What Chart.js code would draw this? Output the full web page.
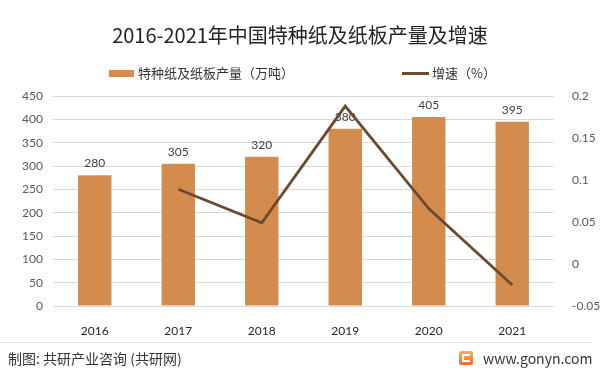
<!DOCTYPE html>
<html>
<head>
<meta charset="utf-8">
<script src="https://cdn.jsdelivr.net/npm/chart.js@4"></script>
<style>
  body { margin: 0; background: #fff; }
  #wrap { position: relative; width: 600px; height: 375px; font-family: "Noto Sans CJK SC", "Noto Sans", sans-serif; }
  #chart { position: absolute; left: 0; top: 0; }
  .title { position: absolute; left: 0; width: 600px; top: 20px; text-align: center; font-size: 20px; color: #222; line-height: 30px; }
  .lg { position: absolute; top: 63px; font-size: 13px; color: #333; display: flex; align-items: center; line-height: 20px; }
  .sw { display: inline-block; margin-right: 4px; }
  .sep { position: absolute; left: 0; top: 342px; width: 592px; height: 1px; background: #e3e3e3; }
  .foot { position: absolute; top: 347px; font-size: 14px; color: #333; line-height: 22px; }
  .logo { position: absolute; left: 459px; top: 351px; width: 14px; height: 14px; background: linear-gradient(#f8b352, #ee6a2c); border-radius: 2px; }
  .logo i { position: absolute; left: 3px; top: 3px; width: 8px; height: 8px; border: 2px solid #fff; border-right: none; box-sizing: border-box; }
</style>
</head>
<body>
<div id="wrap">
  <canvas id="chart" width="600" height="375"></canvas>
  <div class="title">2016-2021年中国特种纸及纸板产量及增速</div>
  <div class="lg" style="left:109px"><span class="sw" style="width:25px;height:7px;background:#d48c4e"></span>特种纸及纸板产量（万吨）</div>
  <div class="lg" style="left:402px"><span class="sw" style="width:27px;height:3px;background:#6b4a2e;margin-right:3px"></span>增速（%）</div>
  <div class="sep"></div>
  <div class="foot" style="left:8px">制图: 共研产业咨询 (共研网)</div>
  <div class="logo"><i></i></div>
  <div class="foot" style="left:483px">www.gonyn.com</div>
</div>
<script>
// 数据
const years = ['2016', '2017', '2018', '2019', '2020', '2021']
const output = [280, 305, 320, 380, 405, 395]
const growth = [null, 0.089, 0.049, 0.188, 0.066, -0.025]

const barColor = '#d48c4e'
const lineColor = '#6b4a2e'
const tickFont = {family: 'Lato, "Noto Sans", sans-serif', size: 12}

// 柱子上的数值
const barLabels = {
    id: 'barLabels',
    afterDatasetDraw(chart, args) {
        if (args.index !== 0) return
        const ctx = chart.ctx
        ctx.save()
        ctx.font = '12px Lato, "Noto Sans", sans-serif'
        ctx.fillStyle = '#404040'
        ctx.textAlign = 'center'
        ctx.textBaseline = 'bottom'
        args.meta.data.forEach((bar, i) => {
            ctx.fillText(output[i], bar.x, bar.y - 6)
        })
        ctx.restore()
    }
}

new Chart(document.getElementById('chart').getContext('2d'), {
    data: {
        labels: years,
        datasets: [
            {
                type: 'bar',
                label: '特种纸及纸板产量（万吨）',
                data: output,
                backgroundColor: barColor,
                yAxisID: 'y',
                order: 1,
                barPercentage: 0.4,
                categoryPercentage: 1
            },
            {
                type: 'line',
                label: '增速（%）',
                data: growth,
                borderColor: lineColor,
                borderWidth: 2.8,
                pointRadius: 0,
                tension: 0,
                yAxisID: 'y1',
                order: 0
            }
        ]
    },
    options: {
        responsive: false,
        animation: false,
        layout: {padding: {top: 96, bottom: 39, left: 0, right: 0}},
        plugins: {
            legend: {display: false},
            tooltip: {enabled: false}
        },
        scales: {
            x: {
                grid: {display: false},
                border: {display: false},
                ticks: {font: tickFont, color: '#262626', padding: 10},
                afterFit: s => { s.height = 30 }
            },
            y: {
                position: 'left',
                min: 0,
                max: 450,
                grid: {color: '#d9d9d9', drawTicks: false},
                border: {display: false},
                ticks: {stepSize: 50, font: tickFont, color: '#595959', padding: 10},
                afterFit: s => { s.width = 53 }
            },
            y1: {
                position: 'right',
                min: -0.05,
                max: 0.2,
                grid: {display: false},
                border: {display: false},
                ticks: {stepSize: 0.05, font: tickFont, color: '#595959', padding: 10,
                    callback: v => Math.round(v * 100) / 100},
                afterFit: s => { s.width = 46 }
            }
        }
    },
    plugins: [barLabels]
})
</script>
</body>
</html>
